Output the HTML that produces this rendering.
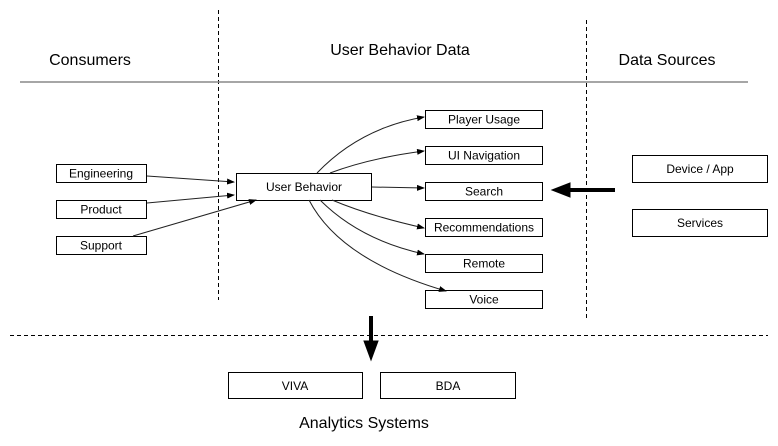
<!DOCTYPE html>
<html><head><style>
body{margin:0;background:#fff;}
svg{display:block;font-family:"Liberation Sans",Arial,sans-serif;}
</style></head><body>
<svg width="778" height="446" viewBox="0 0 778 446" xmlns="http://www.w3.org/2000/svg">
<defs>
<marker id="a" markerWidth="8" markerHeight="6" refX="7" refY="3" orient="auto" markerUnits="userSpaceOnUse"><path d="M0,0 L8,3 L0,6 Z" fill="#000"/></marker>
</defs>
<g stroke="#000" stroke-width="1" stroke-dasharray="4,3">
<line x1="218.5" y1="10" x2="218.5" y2="300"/>
<line x1="586.5" y1="20" x2="586.5" y2="320"/>
<line x1="10" y1="335.5" x2="768" y2="335.5"/>
</g>
<line x1="20" y1="82" x2="748" y2="82" stroke="#888" stroke-width="1.5"/>
<g font-size="16" text-anchor="middle" fill="#000">
<text x="90" y="65">Consumers</text>
<text x="400" y="55">User Behavior Data</text>
<text x="667" y="65">Data Sources</text>
<text x="364" y="428">Analytics Systems</text>
</g>
<g fill="#fff" stroke="#000" stroke-width="1">
<rect x="56.5" y="164.5" width="90" height="18"/>
<rect x="56.5" y="200.5" width="90" height="18"/>
<rect x="56.5" y="236.5" width="90" height="18"/>
<rect x="236.5" y="173.5" width="135" height="27"/>
<rect x="425.5" y="110.5" width="117" height="18"/>
<rect x="425.5" y="146.5" width="117" height="18"/>
<rect x="425.5" y="182.5" width="117" height="18"/>
<rect x="425.5" y="218.5" width="117" height="18"/>
<rect x="425.5" y="254.5" width="117" height="18"/>
<rect x="425.5" y="290.5" width="117" height="18"/>
<rect x="632.5" y="155.5" width="135" height="27"/>
<rect x="632.5" y="209.5" width="135" height="27"/>
<rect x="228.5" y="372.5" width="134" height="26"/>
<rect x="380.5" y="372.5" width="135" height="26"/>
</g>
<g font-size="12" text-anchor="middle" fill="#000">
<text x="101" y="177.5">Engineering</text>
<text x="101" y="213.5">Product</text>
<text x="101" y="249.5">Support</text>
<text x="304" y="191">User Behavior</text>
<text x="484" y="123.5">Player Usage</text>
<text x="484" y="159.5">UI Navigation</text>
<text x="484" y="195.5">Search</text>
<text x="484" y="231.5">Recommendations</text>
<text x="484" y="267.5">Remote</text>
<text x="484" y="303.5">Voice</text>
<text x="700" y="173">Device / App</text>
<text x="700" y="227">Services</text>
<text x="295" y="390">VIVA</text>
<text x="448" y="390">BDA</text>
</g>
<g fill="none" stroke="#222" stroke-width="1" marker-end="url(#a)">
<line x1="147" y1="176" x2="234" y2="182"/>
<line x1="147" y1="203" x2="234" y2="195"/>
<line x1="133" y1="236" x2="256" y2="200"/>
<path d="M317,173 Q360,128 424,117"/>
<path d="M330,173 Q370,158 424,151"/>
<line x1="372" y1="187" x2="424" y2="188"/>
<path d="M332,200 Q370,216 424,228"/>
<path d="M320,200 Q360,240 424,254"/>
<path d="M309,200 Q340,260 446,291"/>
</g>
<g fill="#000" stroke="#000">
<line x1="615" y1="190" x2="565" y2="190" stroke-width="4"/>
<path d="M552,190 L570,183 L570,197 Z"/>
<line x1="371" y1="316" x2="371" y2="345" stroke-width="4"/>
<path d="M371,360 L364,341 L378,341 Z"/>
</g>
</svg>
</body></html>
